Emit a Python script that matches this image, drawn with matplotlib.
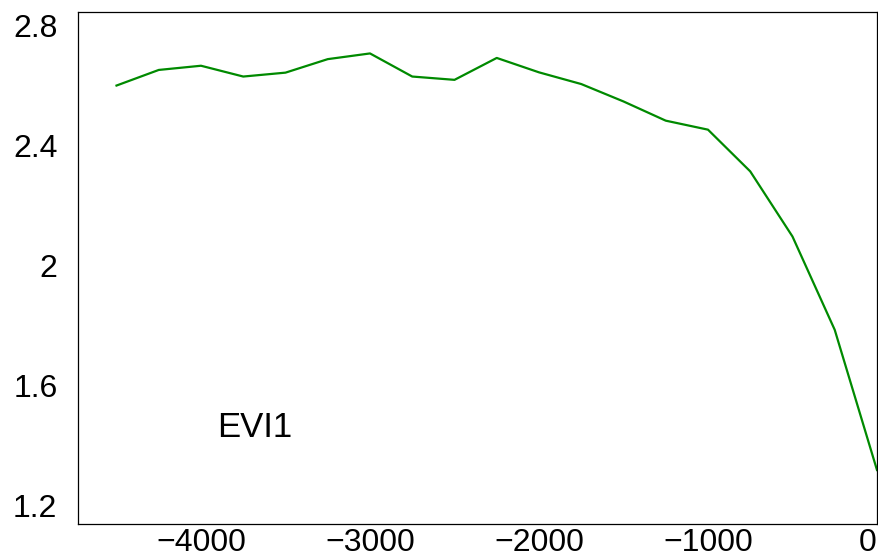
import matplotlib
matplotlib.use("Agg")
import matplotlib.pyplot as plt

# distance (bp) and signal values
pos = [-4500, -4250, -4000, -3750, -3500, -3250, -3000, -2750, -2500, -2250,
       -2000, -1750, -1500, -1250, -1000, -750, -500, -250, 0]
evi1 = [2.599, 2.651, 2.665, 2.629, 2.642, 2.687, 2.706, 2.629, 2.618, 2.691,
        2.643, 2.604, 2.546, 2.482, 2.452, 2.313, 2.096, 1.785, 1.318]
xticks = [-4000, -3000, -2000, -1000, 0]
xlabels = ["\u22124000", "\u22123000", "\u22122000", "\u22121000", "0"]
yticks = [1.2, 1.6, 2.0, 2.4, 2.8]
ylabels = ["1.2", "1.6", "2", "2.4", "2.8"]

plt.rcParams["font.family"] = ["Liberation Sans", "DejaVu Sans"]

fig = plt.figure(figsize=(8.79, 5.58), dpi=100)
ax = fig.add_axes([0.0891, 0.0609, 0.9086, 0.9181])
ax.plot(pos, evi1, color="#008a00", linewidth=1.6, clip_on=False)
ax.set_xlim(-4726, 0)
ax.set_ylim(1.138, 2.845)
ax.set_xticks(xticks, xlabels, fontsize=23)
ax.set_yticks(yticks, ylabels, fontsize=23)
ax.get_xticklabels()[-1].set_horizontalalignment("right")
ax.tick_params(axis="both", length=0)
ax.tick_params(axis="y", pad=15)
ax.tick_params(axis="x", pad=3)
for s in ax.spines.values():
    s.set_linewidth(0.9)
    s.set_color("black")
ax.text(-3905, 1.428, "EVI1", fontsize=25, ha="left", va="baseline")

fig.savefig("out.png", dpi=100)
